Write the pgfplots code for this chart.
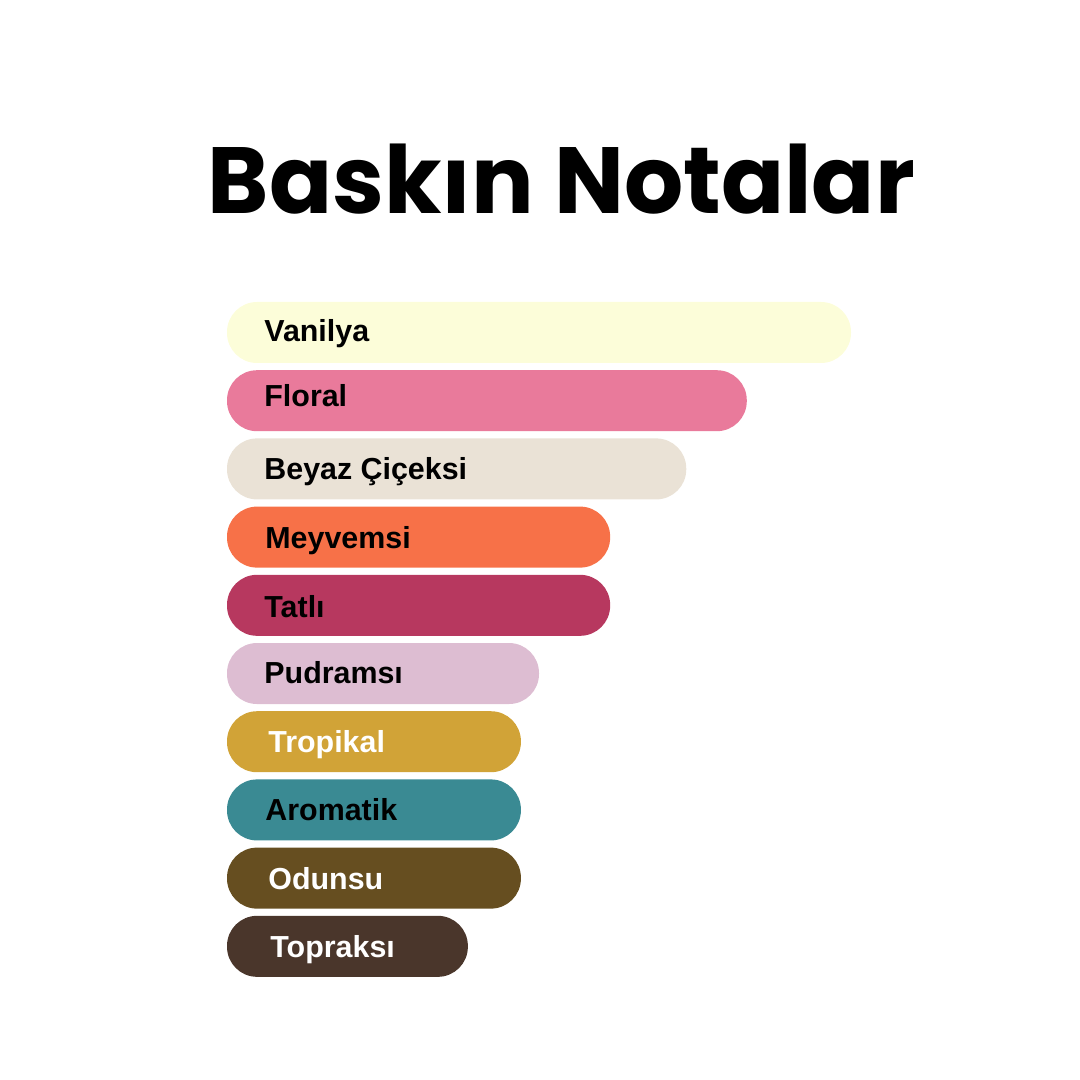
\documentclass[border=0pt]{standalone}
\usepackage{pgfplots}
\pgfplotsset{compat=1.18}
\usepackage{fontspec}
\setmainfont{Liberation Sans}
\newfontfamily\titlefont{Poppins}
\definecolor{cvan}{HTML}{FCFDD9}
\definecolor{cflo}{HTML}{E97A9B}
\definecolor{cbey}{HTML}{EAE2D6}
\definecolor{cmey}{HTML}{F77148}
\definecolor{ctat}{HTML}{B7385F}
\definecolor{cpud}{HTML}{DDBDD2}
\definecolor{ctro}{HTML}{D1A337}
\definecolor{caro}{HTML}{3A8A93}
\definecolor{codu}{HTML}{664E20}
\definecolor{ctop}{HTML}{4A362B}
\begin{document}
\begin{tikzpicture}
\begin{axis}[
  width=540bp, height=540bp, scale only axis,
  xmin=-36.38, xmax=136.70,
  ymin=-4.875, ymax=10.96, y dir=reverse,
  hide axis, clip=false,
  xbar, bar width=30.5bp, bar shift=0pt,
  every axis plot/.append style={draw=none, rounded corners=15bp},
]
\path (rel axis cs:0,0) rectangle (rel axis cs:1,1);
\addplot[fill=cvan] coordinates {(100,0)};
\addplot[fill=cflo] coordinates {(83.3,1)};
\addplot[fill=cbey] coordinates {(73.6,2)};
\addplot[fill=cmey] coordinates {(61.4,3)};
\addplot[fill=ctat] coordinates {(61.4,4)};
\addplot[fill=cpud] coordinates {(50.0,5)};
\addplot[fill=ctro] coordinates {(47.1,6)};
\addplot[fill=caro] coordinates {(47.1,7)};
\addplot[fill=codu] coordinates {(47.1,8)};
\addplot[fill=ctop] coordinates {(38.6,9)};
% labels: name / x / baseline / colour
\foreach \lab/\x/\k/\c in {Vanilya/5.93/0.139/black, Floral/5.93/1.092/black,
  Beyaz Çiçeksi/5.93/2.148/black, Meyvemsi/6.09/3.160/black,
  Tatlı/5.93/4.172/black, Pudramsı/5.93/5.147/black,
  Tropikal/6.57/6.158/white, Aromatik/6.09/7.148/black,
  Odunsu/6.57/8.160/white, Topraksı/6.89/9.157/white}{
  \edef\tmp{\noexpand\node[anchor=base west, inner sep=0pt, text=\c,
    font=\noexpand\fontsize{15.2bp}{18bp}\noexpand\selectfont\noexpand\bfseries]
    at (axis cs:\x,\k) {\lab};}\tmp
}
\node[anchor=base, inner sep=0pt, font=\titlefont\fontsize{47bp}{56bp}\selectfont\bfseries]
  at (axis cs:53.6,-1.74) {\scalebox{0.99}[1]{Baskın Notalar}};
\end{axis}
\end{tikzpicture}
\end{document}
